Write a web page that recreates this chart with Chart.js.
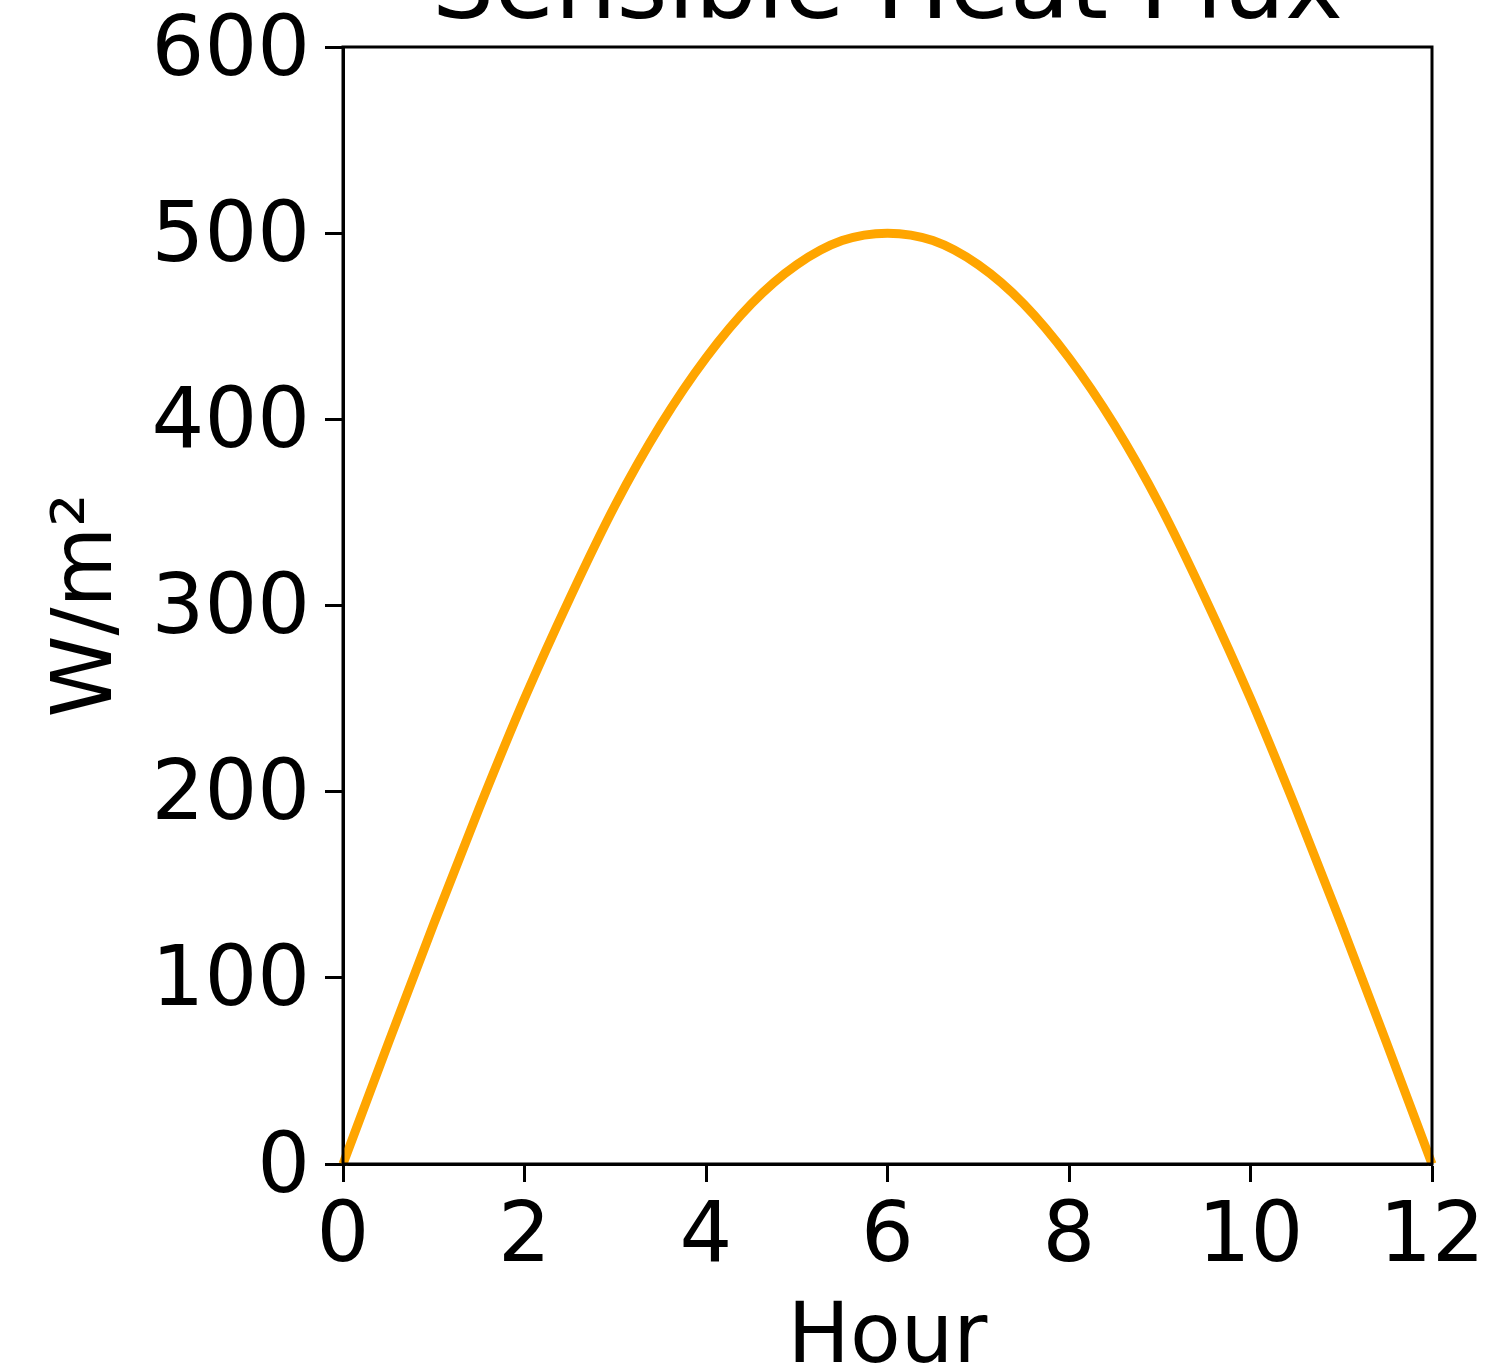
<!DOCTYPE html>
<html>
<head>
<meta charset="utf-8">
<script src="https://cdn.jsdelivr.net/npm/chart.js@4/dist/chart.umd.min.js"></script>
<style>
  html, body { margin: 0; padding: 0; background: #ffffff; overflow: hidden; }
  #wrap { position: absolute; left: 0; top: -100px; width: 1496px; height: 1472px; }
</style>
</head>
<body>
<div id="wrap"><canvas id="c" width="1496" height="1472"></canvas></div>
<script>
const titleText = "Sensible Heat Flux";
const xLabel = "Hour";
const yLabel = "W/m\u00B2";
const hours = [0, 0.5, 1, 1.5, 2, 2.5, 3, 3.5, 4, 4.5, 5, 5.5, 6, 6.5, 7, 7.5, 8, 8.5, 9, 9.5, 10, 10.5, 11, 11.5, 12];
const fluxValues = [0, 65, 129, 191, 250, 304, 354, 397, 433, 462, 483, 496, 500, 496, 483, 462, 433, 397, 354, 304, 250, 191, 129, 65, 0];
const xTicks = [0, 2, 4, 6, 8, 10, 12];
const yTicks = [0, 100, 200, 300, 400, 500, 600];

const FONT = "'DejaVu Sans', sans-serif";

const frame = {
  id: 'frame',
  afterDatasetsDraw(chart) {
    const a = chart.chartArea, ctx = chart.ctx;
    ctx.save();
    ctx.strokeStyle = '#000';
    ctx.lineWidth = 3;
    ctx.strokeRect(a.left, a.top, a.right - a.left, a.bottom - a.top);
    ctx.restore();
  }
};

new Chart(document.getElementById('c'), {
  type: 'line',
  data: {
    datasets: [{
      data: hours.map((h, i) => ({ x: h, y: fluxValues[i] })),
      borderColor: '#FFA500',
      borderWidth: 9,
      pointRadius: 0,
      cubicInterpolationMode: 'monotone',
      fill: false,
      clip: false
    }]
  },
  options: {
    responsive: false,
    animation: false,
    devicePixelRatio: 1,
    layout: { padding: { top: 0, right: 64, bottom: 0, left: 0 } },
    plugins: {
      legend: { display: false },
      tooltip: { enabled: false },
      title: { display: false }
    },
    scales: {
      x: {
        type: 'linear',
        min: 0, max: 12,
        afterBuildTicks(s) { s.ticks = xTicks.map(v => ({ value: v })); },
        afterFit(s) { s.height = 208; },
        grid: { drawOnChartArea: false, drawTicks: true, tickLength: 18, tickWidth: 3, tickColor: '#000' },
        border: { display: true, color: '#000', width: 3 },
        ticks: { color: '#000', padding: 8, maxRotation: 0, autoSkip: false, font: { family: FONT, size: 83 } },
        title: { display: true, text: xLabel, color: '#000', font: { family: FONT, size: 83, lineHeight: 0.75 }, padding: { top: 0, bottom: 0 } }
      },
      xTop: {
        type: 'linear',
        position: 'top',
        min: 0, max: 12,
        afterFit(s) { s.height = 147; },
        grid: { display: false, drawTicks: false },
        border: { display: false },
        ticks: { display: false },
        title: { display: true, text: titleText, color: '#000', font: { family: FONT, size: 98, lineHeight: 1.2 }, padding: { top: 34, bottom: 0 } }
      },
      y: {
        type: 'linear',
        min: 0, max: 600,
        afterBuildTicks(s) { s.ticks = yTicks.map(v => ({ value: v })); },
        afterFit(s) { s.width = 343; },
        grid: { drawOnChartArea: false, drawTicks: true, tickLength: 18, tickWidth: 3, tickColor: '#000' },
        border: { display: true, color: '#000', width: 3 },
        ticks: { color: '#000', padding: 15, labelOffset: 6, autoSkip: false, font: { family: FONT, size: 83 } },
        title: { display: true, text: yLabel, color: '#000', font: { family: FONT, size: 83, lineHeight: 1.2 }, padding: { top: 40, bottom: 0 } }
      }
    }
  },
  plugins: [frame]
});
</script>
</body>
</html>
